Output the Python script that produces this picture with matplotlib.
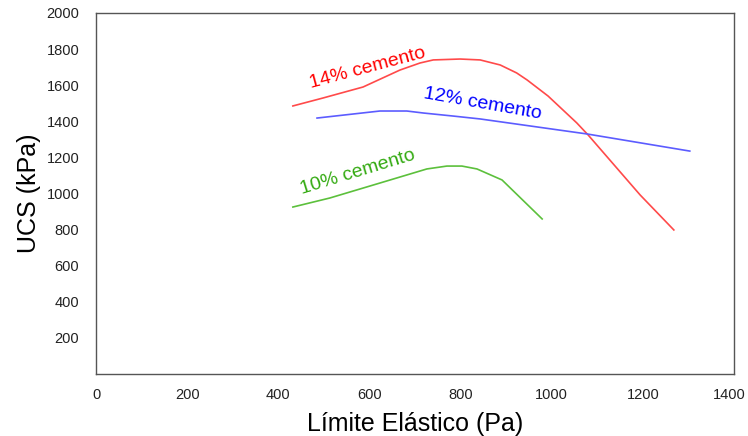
import numpy as np
import matplotlib
matplotlib.use("Agg")
import matplotlib.pyplot as plt
import matplotlib.transforms as mtransforms

plt.rcParams["font.family"] = ["Liberation Sans", "DejaVu Sans"]

# Curvas UCS vs límite elástico para cada dosis de cemento
x_14 = [432, 498, 586, 667, 711, 740, 799, 843, 887, 923, 946, 992, 1055, 1080, 1194, 1268]
ucs_14 = [1485, 1529, 1590, 1684, 1723, 1740, 1745, 1740, 1712, 1668, 1629, 1540, 1391, 1324, 992, 798]

x_12 = [485, 623, 682, 718, 784, 843, 1077, 1303]
ucs_12 = [1418, 1457, 1457, 1446, 1429, 1413, 1330, 1235]

x_10 = [432, 513, 623, 726, 770, 803, 836, 891, 979]
ucs_10 = [925, 975, 1058, 1136, 1152, 1152, 1136, 1075, 859]

x_ticks = [0, 200, 400, 600, 800, 1000, 1200, 1400]
y_ticks = [200, 400, 600, 800, 1000, 1200, 1400, 1600, 1800, 2000]

fig = plt.figure(figsize=(7.48, 4.36), dpi=100)
ax = fig.add_axes([96 / 748, 1 - 374 / 436, (734 - 96) / 748, (374 - 13) / 436])

ax.plot(x_14, ucs_14, color="#ff4a4a", lw=1.2)
ax.plot(x_12, ucs_12, color="#5c5cff", lw=1.2)
ax.plot(x_10, ucs_10, color="#5cc03c", lw=1.2)

ax.text(595, 1695, "14% cemento", color="#ff0000", fontsize=14,
        rotation=15, ha="center", va="center", rotation_mode="anchor")
ax.text(849, 1496, "12% cemento", color="#0000ff", fontsize=14,
        rotation=-10, ha="center", va="center", rotation_mode="anchor")
ax.text(575, 1119, "10% cemento", color="#33aa11", fontsize=14,
        rotation=17, ha="center", va="center", rotation_mode="anchor")

ax.set_xlim(0, 1400)
ax.set_ylim(0, 2000)
ax.set_xticks(x_ticks)
ax.set_yticks(y_ticks)
ax.tick_params(length=0, labelsize=10.5, colors="#222222")
ax.tick_params(axis="x", pad=10)
ax.tick_params(axis="y", pad=12)
for s in ax.spines.values():
    s.set_color("#555555")
    s.set_linewidth(1.0)

# keep the last x tick label inside the figure
last = ax.get_xticklabels()[-1]
last.set_transform(last.get_transform() +
                   mtransforms.ScaledTranslation(-5 / 100, 0, fig.dpi_scale_trans))

ax.set_xlabel("Límite Elástico (Pa)", fontsize=18, labelpad=7)
ax.set_ylabel("UCS (kPa)", fontsize=18, labelpad=4)

fig.savefig("out.png", dpi=100)
